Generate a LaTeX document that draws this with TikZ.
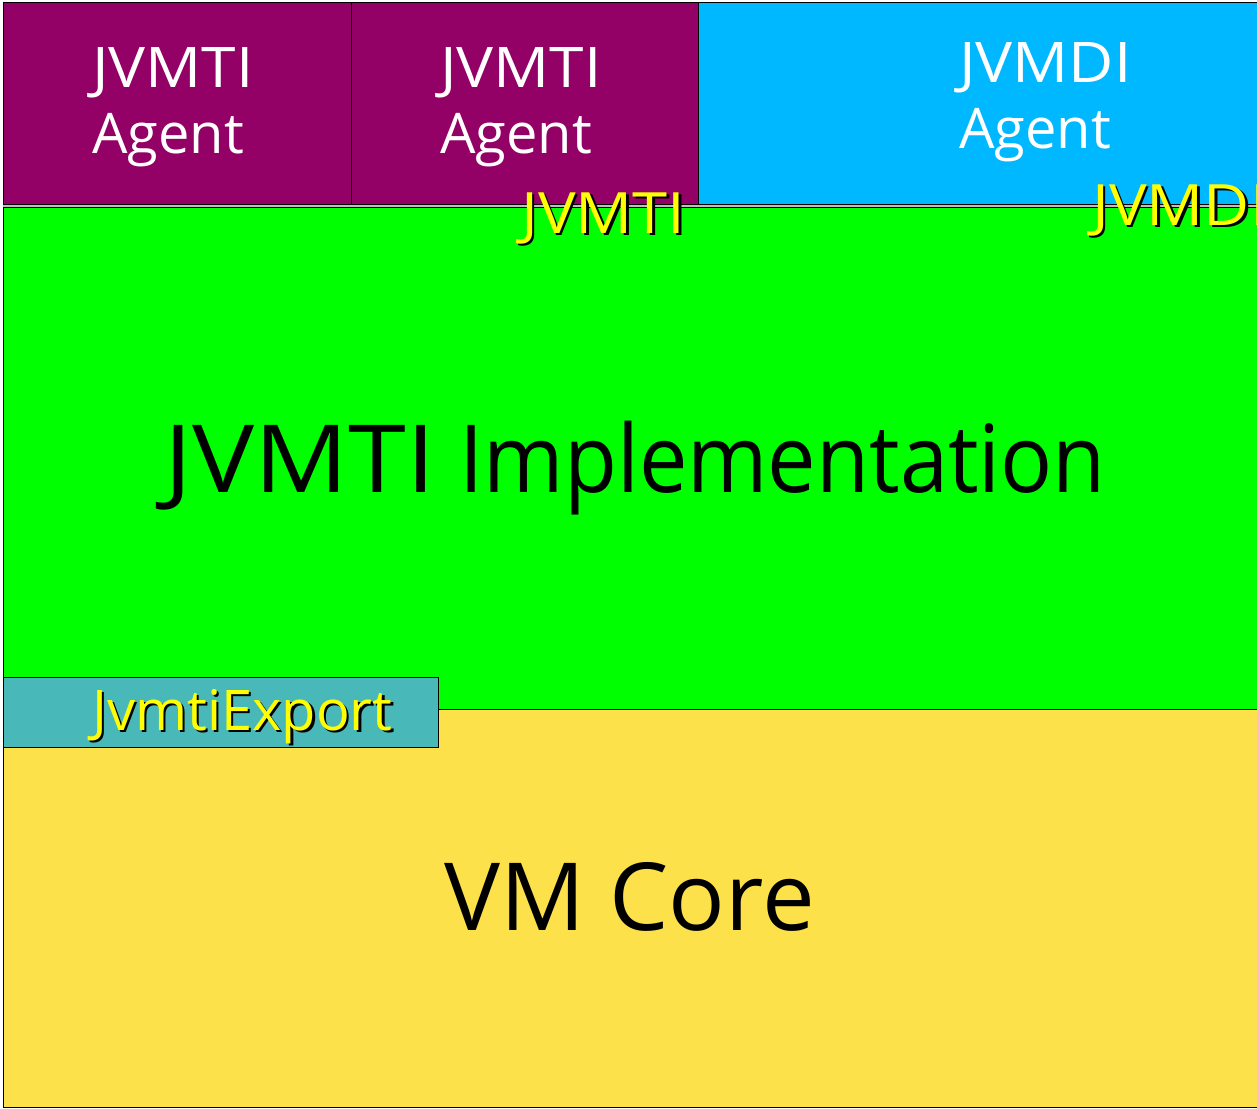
\documentclass[tikz,border=0pt]{standalone}
\usepackage{fontspec}
\setmainfont{Open Sans}
\definecolor{agentpurple}{RGB}{147,0,102}
\definecolor{agentcyan}{RGB}{0,184,255}
\definecolor{implgreen}{RGB}{0,255,0}
\definecolor{coreyellow}{RGB}{252,225,75}
\definecolor{exportteal}{RGB}{72,184,184}
\definecolor{labelyellow}{RGB}{255,255,0}
\definecolor{seamgray}{RGB}{190,190,190}
% yellow text with a black drop shadow
\newcommand\shadowed[1]{\rlap{\kern2.5pt\raisebox{-2.5pt}{\color{black}#1}}#1}
% capital-letter words are set a little wider
\newcommand\widecaps[1]{\scalebox{1.11}[1]{#1}}
\newcommand\narrowlow[1]{\scalebox{0.92}[1]{#1}}
\tikzset{
  block/.style={draw=black, line width=1pt},
  agenttext/.style={text=white, font=\fontsize{56}{65}\selectfont, inner sep=0pt, anchor=base west},
  bigtext/.style={text=black, font=\fontsize{94}{110}\selectfont, inner sep=0pt, anchor=base west},
  ifacelabel/.style={text=labelyellow, font=\fontsize{57}{66}\selectfont, inner sep=0pt, anchor=base west},
}
\begin{document}
\begin{tikzpicture}[x=1pt,y=-1pt]
\useasboundingbox (0,0) rectangle (1257,1108);
\clip (0,0) rectangle (1257,1108);
\fill[white] (0,0) rectangle (1257,1108);

% agents on top
\draw[block, fill=agentpurple] (3,3) rectangle (351,204);
\draw[block, fill=agentpurple] (351,3) rectangle (698,204);
\draw[block, fill=agentcyan] (698,3) rectangle (1262,204);
\fill[seamgray] (3,204.5) rectangle (1262,206.5);

% implementation and core layers
\draw[block, fill=implgreen] (3,207) rectangle (1262,709);
\draw[block, fill=coreyellow] (3,709) rectangle (1262,1107);
\draw[block, fill=exportteal] (3,677) rectangle (438,747);

% agent labels
\node[agenttext] (agentA1) at (92,87) {\widecaps{JVMTI}};
\node[agenttext] (agentA2) at (92,153) {Agent};
\node[agenttext] (agentB1) at (440,87) {\widecaps{JVMTI}};
\node[agenttext] (agentB2) at (440,153) {Agent};
\node[agenttext] (agentC1) at (959,82) {\widecaps{JVMDI}};
\node[agenttext] (agentC2) at (959,148) {Agent};

% layer titles
\node[bigtext] (impl) at (164,492) {\widecaps{JVMTI} \narrowlow{Implementation}};
\node[bigtext] (core) at (444,930) {VM Core};

% interface labels
\node[ifacelabel] (ifJvmti) at (521,233) {\widecaps{\shadowed{JVMTI}}};
\node[ifacelabel] (ifJvmdi) at (1092,225) {\widecaps{\shadowed{JVMDI}}};
\node[ifacelabel, font=\fontsize{56}{65}\selectfont] (ifExport) at (92,730) {\shadowed{JvmtiExport}};
\end{tikzpicture}
\end{document}
